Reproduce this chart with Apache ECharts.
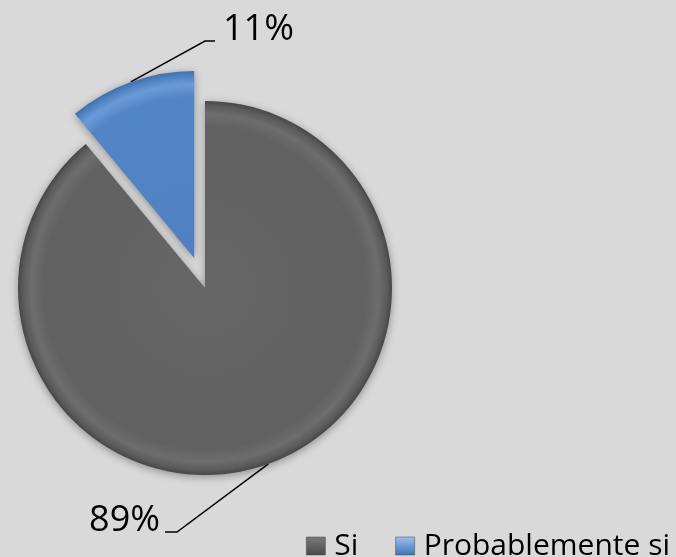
<!DOCTYPE html>
<html>
<head>
<meta charset="utf-8">
<script src="https://cdn.jsdelivr.net/npm/echarts@6/dist/echarts.min.js"></script>
<style>
html,body{margin:0;padding:0;background:#d9d9d9;}
#chart{width:676px;height:557px;}
</style>
</head>
<body>
<div id="chart"></div>
<script>
const categories = ['Si', 'Probablemente si'];
const values = [89, 11];
const labelTexts = ['89%', '11%'];
const exploded = [false, true];

const CX = 205, CY = 288, R = 187, EXPLODE = 32;

function radial(cx, cy, stops) {
  return { type: 'radial', x: cx, y: cy, r: R, global: true,
    colorStops: stops.map(s => ({ offset: s[0], color: s[1] })) };
}
const sliceStops = [
  [[0, '#666666'], [0.86, '#616161'], [0.93, '#6d6d6d'], [0.975, '#5a5a5a'], [1, '#474747']],
  [[0, '#5080c0'], [0.86, '#5285c6'], [0.93, '#6b9ad8'], [0.975, '#4f80c0'], [1, '#3f6fae']]
];
const legendColors = [
  { type: 'linear', x: 0, y: 0, x2: 0, y2: 1, colorStops: [{ offset: 0, color: '#7a7a7a' }, { offset: 1, color: '#4a4a4a' }] },
  { type: 'linear', x: 0, y: 0, x2: 0, y2: 1, colorStops: [{ offset: 0, color: '#9cc0ee' }, { offset: 1, color: '#3f74b8' }] }
];
const labelPlacement = [
  { x: 160, y: 521, align: 'right', pts: [[177, 532], [165, 532]] },
  { x: 223, y: 30, align: 'left', pts: [[205, 41], [215, 41]] }
];

// centre of each slice (exploded slices are pushed out along their mid-angle)
const total = values.reduce((a, b) => a + b, 0);
let acc = 0;
const centers = values.map((v, i) => {
  const midDeg = 90 - (acc + v / 2) / total * 360;
  acc += v;
  const rad = midDeg * Math.PI / 180;
  const d = exploded[i] ? EXPLODE : 0;
  return [CX + d * Math.cos(rad), CY - d * Math.sin(rad)];
});

const series = categories.map((cat, k) => ({
  type: 'pie',
  center: centers[k],
  radius: [0, R],
  startAngle: 90,
  clockwise: true,
  avoidLabelOverlap: false,
  emphasis: { disabled: true },
  silent: true,
  z: 2 + k,
  label: {
    show: true,
    position: 'outside',
    fontFamily: 'Open Sans',
    fontSize: 36,
    color: '#000',
    formatter: p => labelTexts[p.dataIndex]
  },
  labelLine: { show: true, lineStyle: { color: '#000', width: 1.5 } },
  labelLayout: function (params) {
    if (params.dataIndex !== k) return {};
    const lp = labelPlacement[k];
    const p0 = params.labelLinePoints[0];
    return {
      x: lp.x, y: lp.y, align: lp.align, verticalAlign: 'middle',
      labelLinePoints: [p0, lp.pts[0], lp.pts[1]]
    };
  },
  data: categories.map((c, i) => i === k ? {
    name: c,
    value: values[i],
    itemStyle: { color: radial(centers[k][0], centers[k][1], sliceStops[i]),
      shadowBlur: 8, shadowColor: 'rgba(0,0,0,0.35)', shadowOffsetY: 2, borderWidth: 0 }
  } : {
    name: '_' + c,
    value: values[i],
    itemStyle: { color: 'rgba(0,0,0,0)', borderWidth: 0 },
    label: { show: false },
    labelLine: { show: false }
  })
}));

const chart = echarts.init(document.getElementById('chart'));
chart.setOption({
  backgroundColor: '#d9d9d9',
  animation: false,
  legend: {
    right: 1,
    top: 526,
    itemWidth: 19,
    itemHeight: 18,
    itemGap: 37,
    selectedMode: false,
    textStyle: { fontFamily: 'Open Sans', fontSize: 30, color: '#000', padding: [0, 0, 0, 4] },
    data: categories.map((c, i) => ({ name: c, icon: 'rect', itemStyle: { color: legendColors[i], borderColor: '#444', borderWidth: 0.5 } }))
  },
  series: series
});
</script>
</body>
</html>
